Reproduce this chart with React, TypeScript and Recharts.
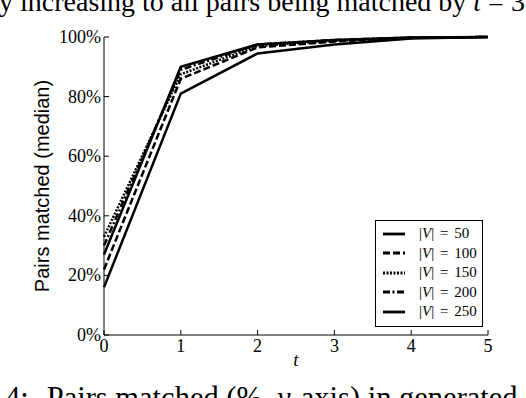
import React from "react";
import { LineChart, Line, XAxis, YAxis, Legend } from "recharts";

// values (percent of pairs matched, median)
const tValues = [0, 1, 2, 3, 4, 5];
const matched50 = [16, 81, 94.5, 97.5, 99.5, 100];
const matched100 = [22, 86, 96.5, 98.5, 99.7, 100];
const matched150 = [33, 87.5, 97, 98.7, 99.8, 100];
const matched200 = [30, 89, 97.5, 99, 99.8, 100];
const matched250 = [27, 90, 97.5, 99, 99.8, 100];
const sizeLabels = ["50", "100", "150", "200", "250"];
const xTicks = [0, 1, 2, 3, 4, 5];
const yTicks = [0, 20, 40, 60, 80, 100];

const data = tValues.map((t, i) => ({
  t,
  v50: matched50[i],
  v100: matched100[i],
  v150: matched150[i],
  v200: matched200[i],
  v250: matched250[i],
}));

const series = [
  { key: "v50", size: sizeLabels[0], dash: undefined },
  { key: "v100", size: sizeLabels[1], dash: "7 3" },
  { key: "v150", size: sizeLabels[2], dash: "2 1.5" },
  { key: "v200", size: sizeLabels[3], dash: "7 2.5 2 2.5" },
  { key: "v250", size: sizeLabels[4], dash: undefined },
];

const serif = "'Liberation Serif', 'DejaVu Serif', serif";
const TICK = 5;

const BottomTick = (props: any) => {
  const { x, y, payload } = props;
  return (
    <g>
      <line x1={x} y1={y} x2={x} y2={y - TICK} stroke="#000" />
      <text x={x} y={y + 17} textAnchor="middle" fontFamily={serif} fontSize={18} fill="#000">
        {payload.value}
      </text>
    </g>
  );
};

const TopTick = (props: any) => {
  const { x, y } = props;
  return <line x1={x} y1={y} x2={x} y2={y + TICK} stroke="#000" />;
};

const LeftTick = (props: any) => {
  const { x, y, payload } = props;
  return (
    <g>
      <line x1={x} y1={y} x2={x + TICK} y2={y} stroke="#000" />
      <text x={x - 3} y={y + 6} textAnchor="end" fontFamily={serif} fontSize={18} fill="#000">
        {payload.value + "%"}
      </text>
    </g>
  );
};

const RightTick = (props: any) => {
  const { x, y } = props;
  return <line x1={x} y1={y} x2={x - TICK} y2={y} stroke="#000" />;
};

const XLabel = (props: any) => {
  const { viewBox } = props;
  return (
    <text
      x={viewBox.x + viewBox.width / 2}
      y={viewBox.y + 31}
      textAnchor="middle"
      fontFamily={serif}
      fontStyle="italic"
      fontSize={19}
      fill="#000"
    >
      t
    </text>
  );
};

const YLabel = (props: any) => {
  const { viewBox } = props;
  const cx = viewBox.x + 5;
  const cy = viewBox.y + viewBox.height / 2;
  return (
    <text
      x={cx}
      y={cy}
      transform={`rotate(-90, ${cx}, ${cy})`}
      textAnchor="middle"
      fontFamily="'Liberation Sans', Arial, sans-serif"
      fontSize={20}
      fill="#000"
    >
      Pairs matched (median)
    </text>
  );
};

const LegendBox = () => (
  <div
    style={{
      width: 108,
      height: 107,
      border: "1px solid #000",
      boxSizing: "border-box",
      background: "#fff",
      position: "relative",
    }}
  >
    {series.map((s, i) => (
      <div
        key={s.key}
        style={{
          position: "absolute",
          left: 7,
          top: 3 + i * 19.5,
          height: 19.5,
          display: "flex",
          alignItems: "center",
          whiteSpace: "nowrap",
        }}
      >
        <svg width={22} height={6} style={{ display: "block" }}>
          <line x1={0} y1={3} x2={22} y2={3} stroke="#000" strokeWidth={2.8} strokeDasharray={s.dash} />
        </svg>
        <span style={{ marginLeft: 14, fontFamily: serif, fontSize: 15, wordSpacing: 2, color: "#000" }}>
          |<i>V</i>| = {s.size}
        </span>
      </div>
    ))}
  </div>
);

export default function App() {
  return (
    <div
      style={{
        position: "absolute",
        left: 0,
        top: 0,
        width: 526,
        height: 398,
        overflow: "hidden",
        background: "#fff",
      }}
    >
      <LineChart width={526} height={398} data={data} margin={{ top: 37, right: 38, bottom: 33, left: 44 }}>
        <XAxis
          dataKey="t"
          type="number"
          domain={[0, 5]}
          ticks={xTicks}
          interval={0}
          tick={<BottomTick />}
          tickLine={false}
          tickSize={0}
          tickMargin={0}
          height={30}
          axisLine={{ stroke: "#000" }}
          label={<XLabel />}
        />
        <XAxis
          xAxisId="top"
          orientation="top"
          dataKey="t"
          type="number"
          domain={[0, 5]}
          ticks={xTicks}
          interval={0}
          tick={<TopTick />}
          tickLine={false}
          tickSize={0}
          tickMargin={0}
          height={0}
          axisLine={{ stroke: "#000" }}
        />
        <YAxis
          type="number"
          domain={[0, 100]}
          ticks={yTicks}
          interval={0}
          tick={<LeftTick />}
          tickLine={false}
          tickSize={0}
          tickMargin={0}
          width={60}
          axisLine={{ stroke: "#000" }}
          label={<YLabel />}
        />
        <YAxis
          yAxisId="right"
          orientation="right"
          type="number"
          domain={[0, 100]}
          ticks={yTicks}
          interval={0}
          tick={<RightTick />}
          tickLine={false}
          tickSize={0}
          tickMargin={0}
          width={0}
          axisLine={{ stroke: "#000" }}
        />
        {series.map((s) => (
          <Line
            key={s.key}
            type="linear"
            dataKey={s.key}
            stroke="#000"
            strokeWidth={2.5}
            strokeDasharray={s.dash}
            dot={false}
            isAnimationActive={false}
          />
        ))}
        <Legend
          layout="vertical"
          align="center"
          verticalAlign="middle"
          content={<LegendBox />}
          wrapperStyle={{ left: 375, top: 220, width: 108, height: 107 }}
        />
      </LineChart>
      <div
        style={{
          position: "absolute",
          left: -1,
          top: -12,
          fontFamily: serif,
          fontSize: 28,
          lineHeight: "28px",
          whiteSpace: "nowrap",
          color: "#000",
        }}
      >
        y increasing to all pairs being matched by <i>t</i> = 3
      </div>
      <div
        style={{
          position: "absolute",
          left: 5,
          top: 383,
          fontFamily: serif,
          fontSize: 30.5,
          lineHeight: "30.5px",
          whiteSpace: "nowrap",
          color: "#000",
        }}
      >
        4:<span style={{ marginLeft: 18 }}>Pairs matched (%, <i>y</i>-axis) in generated</span>
      </div>
    </div>
  );
}
